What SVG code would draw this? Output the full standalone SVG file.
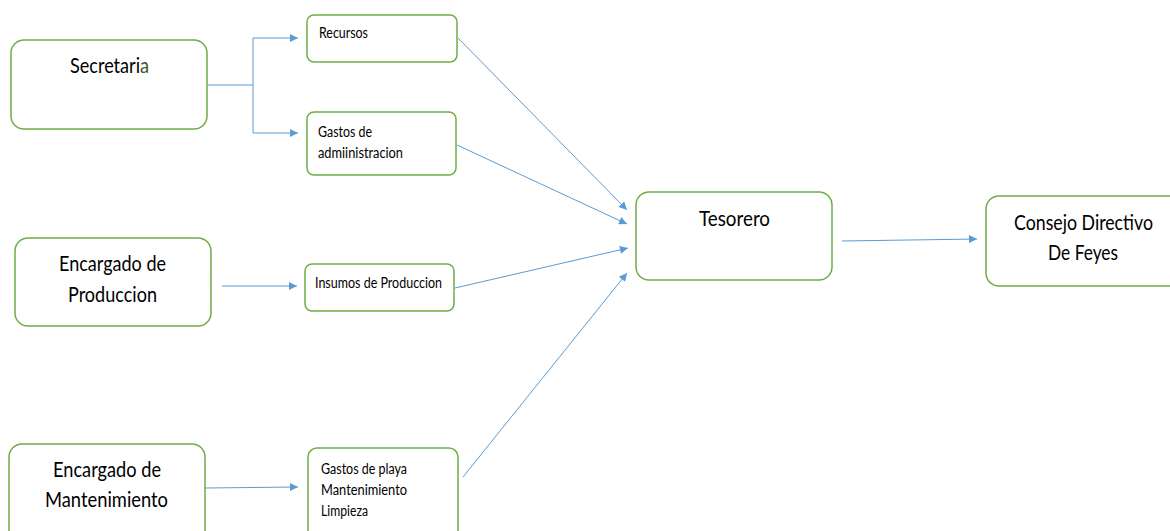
<svg xmlns="http://www.w3.org/2000/svg" width="1170" height="531" viewBox="0 0 1170 531">
<style>
.box{fill:#fff;stroke:#70AD47;stroke-width:1.5}
.t{font-family:Lato,"Liberation Sans",sans-serif;fill:#000}
.big{font-size:21px}
.sm{font-size:14.5px}
.c{fill:none;stroke:#5B9BD5;stroke-width:1}
</style>
<defs>
<marker id="ah" viewBox="0 0 10 10" refX="10" refY="5" markerWidth="10" markerHeight="8" markerUnits="userSpaceOnUse" orient="auto">
<path d="M0,0 L10,5 L0,10 z" fill="#5B9BD5"/>
</marker>
</defs>
<rect width="1170" height="531" fill="#fff"/>
<g id="connectors">
<polyline class="c" points="207,85 253,85 253,38 298,38" marker-end="url(#ah)"/>
<polyline class="c" points="253,85 253,133 298,133" marker-end="url(#ah)"/>
<line class="c" x1="222" y1="286" x2="297" y2="286" marker-end="url(#ah)"/>
<line class="c" x1="205" y1="488" x2="298" y2="487" marker-end="url(#ah)"/>
<line class="c" x1="458" y1="38" x2="627" y2="210" marker-end="url(#ah)"/>
<line class="c" x1="457" y1="145" x2="627" y2="224" marker-end="url(#ah)"/>
<line class="c" x1="455" y1="288" x2="628" y2="248" marker-end="url(#ah)"/>
<line class="c" x1="463" y1="477" x2="627" y2="273" marker-end="url(#ah)"/>
<line class="c" x1="842" y1="241" x2="977" y2="239" marker-end="url(#ah)"/>
</g>
<g id="secretaria">
<rect class="box" x="11" y="40" width="196" height="89" rx="13"/>
<text class="t big" x="70" y="73" textLength="79" lengthAdjust="spacingAndGlyphs">Secretari<tspan style="fill:#375623">a</tspan></text>
</g>
<g id="recursos">
<rect class="box" x="307" y="15" width="150" height="47" rx="7"/>
<text class="t sm" x="319" y="38" textLength="49" lengthAdjust="spacingAndGlyphs">Recursos</text>
</g>
<g id="gastos-admin">
<rect class="box" x="307" y="112" width="149" height="63" rx="7"/>
<text class="t sm" x="318" y="137" textLength="54" lengthAdjust="spacingAndGlyphs">Gastos de</text>
<text class="t sm" x="318" y="158" textLength="85" lengthAdjust="spacingAndGlyphs">admiinistracion</text>
</g>
<g id="encargado-produccion">
<rect class="box" x="15" y="238" width="196" height="88" rx="13"/>
<text class="t big" x="59" y="271" textLength="107" lengthAdjust="spacingAndGlyphs">Encargado de</text>
<text class="t big" x="68" y="302" textLength="89" lengthAdjust="spacingAndGlyphs">Produccion</text>
</g>
<g id="insumos">
<rect class="box" x="305" y="264" width="149" height="47" rx="7"/>
<text class="t sm" x="315" y="288" textLength="127" lengthAdjust="spacingAndGlyphs">Insumos de Produccion</text>
</g>
<g id="encargado-mantenimiento">
<rect class="box" x="9" y="444" width="196" height="100" rx="13"/>
<text class="t big" x="53" y="477" textLength="108" lengthAdjust="spacingAndGlyphs">Encargado de</text>
<text class="t big" x="45" y="507" textLength="123" lengthAdjust="spacingAndGlyphs">Mantenimiento</text>
</g>
<g id="gastos-playa">
<rect class="box" x="308" y="448" width="150" height="100" rx="9"/>
<text class="t sm" x="321" y="474" textLength="86" lengthAdjust="spacingAndGlyphs">Gastos de playa</text>
<text class="t sm" x="321" y="495" textLength="86" lengthAdjust="spacingAndGlyphs">Mantenimiento</text>
<text class="t sm" x="321" y="516" textLength="47" lengthAdjust="spacingAndGlyphs">Limpieza</text>
</g>
<g id="tesorero">
<rect class="box" x="636" y="192" width="196" height="88" rx="13"/>
<text class="t big" x="699" y="226" textLength="71" lengthAdjust="spacingAndGlyphs">Tesorero</text>
</g>
<g id="consejo">
<rect class="box" x="986" y="196" width="200" height="90" rx="13"/>
<text class="t big" x="1014" y="230" textLength="139" lengthAdjust="spacingAndGlyphs">Consejo Directivo</text>
<text class="t big" x="1048" y="260" textLength="70" lengthAdjust="spacingAndGlyphs">De Feyes</text>
</g>
</svg>
